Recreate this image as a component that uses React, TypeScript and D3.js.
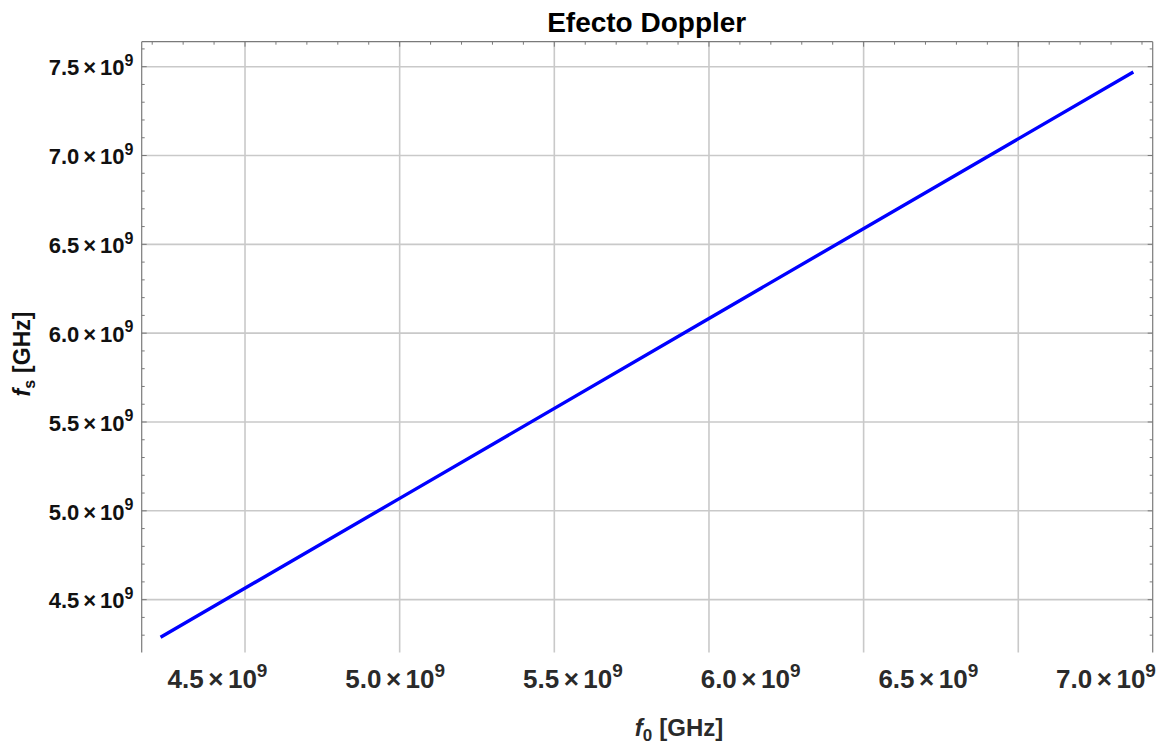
import React from "react";
import * as d3 from "d3";

const W = 1164;
const H = 744;

// Data
const f0Values = [4.227e9, 5.0e9, 6.0e9, 7.372e9];
const fsValues = [4.2885e9, 5.07e9, 6.083e9, 7.47e9];

// Axis domains and ticks
const xDomain = [4.166e9, 7.4346e9];
const yDomain = [4.2025e9, 7.6406e9];
const xMajorTicks = [4.5e9, 5.0e9, 5.5e9, 6.0e9, 6.5e9, 7.0e9];
const yMajorTicks = [4.5e9, 5.0e9, 5.5e9, 6.0e9, 6.5e9, 7.0e9, 7.5e9];
const xTickLabels = ["4.5", "5.0", "5.5", "6.0", "6.5", "7.0"];
const yTickLabels = ["4.5", "5.0", "5.5", "6.0", "6.5", "7.0", "7.5"];
const tickExponent = "9";

const title = "Efecto Doppler";
const xTitleMain = "f";
const xTitleSub = "0";
const yTitleMain = "f";
const yTitleSub = "s";
const unitText = "[GHz]";

const left = 141.7;
const right = 1152.7;
const top = 41.7;
const bottom = 652.5;

const FONT = "'Liberation Sans', Arial, Helvetica, sans-serif";

export default function App() {
  const x = d3.scaleLinear().domain(xDomain).range([left, right]);
  const y = d3.scaleLinear().domain(yDomain).range([bottom, top]);
  // the pasted label strip below the frame is laid out on a slightly wider scale
  const xLabel = d3.scaleLinear().domain([4.5e9, 7.0e9]).range([217.5, 1106]);

  const xMinor = d3.range(42, 75).map((v) => v * 1e8).filter((v) => v >= xDomain[0] && v <= xDomain[1]);
  const yMinor = d3.range(42, 77).map((v) => v * 1e8).filter((v) => v >= yDomain[0] && v <= yDomain[1]);
  const isMajor = (v: number) => Math.abs(Math.round(v / 5e8) * 5e8 - v) < 1e6;

  const line = d3
    .line<number>()
    .x((_, i) => x(f0Values[i]))
    .y((d) => y(d));

  return (
    <svg
      width={W}
      height={H}
      style={{ position: "absolute", left: 0, top: 0, display: "block", background: "#fff" }}
      fontFamily={FONT}
    >
      <rect x={0} y={0} width={W} height={H} fill="#fff" />
      {/* grid */}
      <g stroke="#c9c9c9" strokeWidth={1.6}>
        {xMajorTicks.map((v) => (
          <line key={"gx" + v} x1={x(v)} x2={x(v)} y1={top} y2={bottom} />
        ))}
        {yMajorTicks.map((v) => (
          <line key={"gy" + v} x1={left} x2={right} y1={y(v)} y2={y(v)} />
        ))}
      </g>
      {/* frame */}
      <g stroke="#7a7a7a" strokeWidth={1.2} fill="none">
        <line x1={left} x2={right} y1={top} y2={top} />
        <line x1={left} x2={left} y1={top} y2={bottom} />
        <line x1={right} x2={right} y1={top} y2={bottom} />
      </g>
      {/* ticks */}
      <g stroke="#7a7a7a" strokeWidth={1}>
        {xMinor.map((v) => {
          const len = isMajor(v) ? 5 : 3;
          return <line key={"tx" + v} x1={x(v)} x2={x(v)} y1={top} y2={top + len} />;
        })}
        {yMinor.map((v) => {
          const len = isMajor(v) ? 5 : 3;
          return (
            <g key={"ty" + v}>
              <line x1={left} x2={left + len} y1={y(v)} y2={y(v)} />
              <line x1={right} x2={right - len} y1={y(v)} y2={y(v)} />
            </g>
          );
        })}
      </g>
      {/* data line */}
      <path d={line(fsValues) || ""} fill="none" stroke="#0000ff" strokeWidth={3.4} strokeLinecap="butt" />

      {/* y tick labels */}
      {yMajorTicks.map((v, i) => (
        <text key={"yl" + v} x={133.5} y={y(v) + 8.8} textAnchor="end" fontSize={22} fontWeight="bold" fill="#111">
          {yTickLabels[i]}
          <tspan dx={4}>×</tspan>
          <tspan dx={4}>10</tspan>
          <tspan fontSize={16} dy={-9.5}>{tickExponent}</tspan>
        </text>
      ))}

      {/* x tick labels */}
      {xMajorTicks.map((v, i) => (
        <text key={"xl" + v} x={xLabel(v)} y={688} textAnchor="middle" fontSize={26} fontWeight="bold" fill="#2a2a2a">
          {xTickLabels[i]}
          <tspan dx={4.5}>×</tspan>
          <tspan dx={4.5}>10</tspan>
          <tspan fontSize={19} dy={-11.5}>{tickExponent}</tspan>
        </text>
      ))}

      {/* title */}
      <text x={646.7} y={32.3} textAnchor="middle" fontSize={28} fontWeight="bold" fill="#000">
        {title}
      </text>

      {/* x axis title */}
      <text x={679} y={736} textAnchor="middle" fontSize={24} fontWeight="bold" fill="#2a2a2a">
        <tspan fontStyle="italic">{xTitleMain}</tspan>
        <tspan fontSize={17} dy={5}>{xTitleSub}</tspan>
        <tspan dy={-5} dx={7}>{unitText}</tspan>
      </text>

      {/* y axis title */}
      <text transform="translate(30,354) rotate(-90)" textAnchor="middle" fontSize={23} fontWeight="bold" fill="#111">
        <tspan fontStyle="italic">{yTitleMain}</tspan>
        <tspan fontSize={16} dy={5}>{yTitleSub}</tspan>
        <tspan dy={-5} dx={7}>{unitText}</tspan>
      </text>
    </svg>
  );
}
